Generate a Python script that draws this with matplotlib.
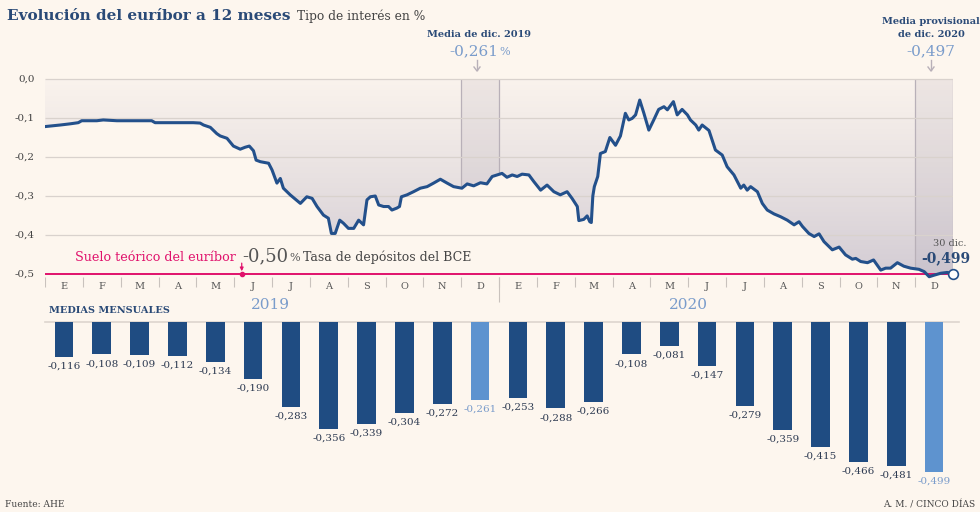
import numpy as np
import matplotlib
matplotlib.use('Agg')
import matplotlib.pyplot as plt
from matplotlib.patches import Polygon, Rectangle
from matplotlib.colors import LinearSegmentedColormap

plt.rcParams['font.family'] = ['DejaVu Serif']

# meses desde el 1 de enero de 2019 / euribor 12 meses (%)
mes = [0.00, 0.40, 0.66, 0.88, 0.97, 1.37, 1.54, 1.90, 2.34, 2.82, 2.91, 3.39, 3.92,
       4.10, 4.19, 4.37, 4.54, 4.63, 4.81, 4.98, 5.16, 5.29, 5.40, 5.51, 5.58, 5.69,
       5.91, 6.00, 6.13, 6.22, 6.30, 6.48, 6.75, 6.92, 7.06, 7.19, 7.36, 7.49, 7.57,
       7.67, 7.79, 7.89, 8.02, 8.16, 8.29, 8.42, 8.51, 8.60, 8.73, 8.82, 8.95, 9.08,
       9.17, 9.30, 9.37, 9.42, 9.57, 9.74, 9.92, 10.10, 10.27, 10.45, 10.63, 10.80,
       11.02, 11.16, 11.33, 11.51, 11.68, 11.82, 11.95, 12.08, 12.21, 12.35, 12.48,
       12.61, 12.79, 12.92, 13.10, 13.27, 13.45, 13.62, 13.80, 13.93, 14.07, 14.11,
       14.24, 14.33, 14.40, 14.44, 14.48, 14.52, 14.61, 14.68, 14.81, 14.93, 15.08,
       15.21, 15.34, 15.43, 15.52, 15.61, 15.72, 15.83, 15.96, 16.09, 16.22, 16.36,
       16.45, 16.61, 16.71, 16.84, 16.98, 17.06, 17.20, 17.28, 17.37, 17.55, 17.72,
       17.90, 18.03, 18.21, 18.39, 18.47, 18.56, 18.65, 18.83, 18.96, 19.09, 19.27,
       19.44, 19.62, 19.80, 19.93, 20.02, 20.19, 20.33, 20.46, 20.59, 20.81, 20.99,
       21.16, 21.34, 21.43, 21.56, 21.74, 21.90, 22.09, 22.22, 22.35, 22.53, 22.70,
       22.88, 23.10, 23.24, 23.37, 23.50, 23.68, 23.85, 24.00]
euribor = [-0.122, -0.118, -0.115, -0.112, -0.107, -0.107, -0.105, -0.107, -0.107, -0.107,
           -0.112, -0.112, -0.112, -0.113, -0.118, -0.124, -0.140, -0.146, -0.152, -0.172,
           -0.180, -0.175, -0.172, -0.184, -0.208, -0.212, -0.216, -0.233, -0.267, -0.255,
           -0.280, -0.297, -0.319, -0.302, -0.306, -0.327, -0.349, -0.357, -0.396, -0.396,
           -0.362, -0.370, -0.383, -0.383, -0.362, -0.374, -0.310, -0.302, -0.300, -0.323,
           -0.327, -0.327, -0.336, -0.331, -0.327, -0.302, -0.297, -0.289, -0.280, -0.276,
           -0.267, -0.257, -0.267, -0.276, -0.280, -0.269, -0.274, -0.266, -0.269, -0.250,
           -0.246, -0.242, -0.252, -0.246, -0.250, -0.244, -0.246, -0.263, -0.285, -0.272,
           -0.289, -0.297, -0.289, -0.306, -0.327, -0.363, -0.360, -0.351, -0.366, -0.368,
           -0.300, -0.276, -0.250, -0.191, -0.186, -0.150, -0.170, -0.146, -0.088, -0.105,
           -0.101, -0.092, -0.054, -0.088, -0.131, -0.105, -0.078, -0.071, -0.079, -0.058,
           -0.092, -0.078, -0.092, -0.105, -0.118, -0.131, -0.118, -0.132, -0.182, -0.195,
           -0.225, -0.246, -0.280, -0.272, -0.285, -0.276, -0.289, -0.319, -0.336, -0.346,
           -0.353, -0.362, -0.374, -0.366, -0.378, -0.396, -0.404, -0.397, -0.417, -0.438,
           -0.431, -0.451, -0.462, -0.460, -0.468, -0.471, -0.464, -0.490, -0.485, -0.485,
           -0.471, -0.480, -0.485, -0.488, -0.494, -0.507, -0.503, -0.498, -0.496, -0.499]

meses = ['E', 'F', 'M', 'A', 'M', 'J', 'J', 'A', 'S', 'O', 'N', 'D'] * 2
medias = [-0.116, -0.108, -0.109, -0.112, -0.134, -0.190, -0.283, -0.356, -0.339, -0.304,
          -0.272, -0.261, -0.253, -0.288, -0.266, -0.108, -0.081, -0.147, -0.279, -0.359,
          -0.415, -0.466, -0.481, -0.499]
resaltados = [11, 23]
niveles = [0.0, -0.1, -0.2, -0.3, -0.4, -0.5]
etiquetas_y = ['0,0', '-0,1', '-0,2', '-0,3', '-0,4', '-0,5']
suelo = -0.50

fondo = '#fdf6ee'
azul = '#23508b'
azul_claro = '#5e93cf'
texto_azul = '#7a9ccb'
marino = '#2a4a77'
magenta = '#e0126c'
gris = '#555555'

W, H = 980, 512
def fx(p):
    return p / W
def fy(p):
    return 1 - p / H

fig = plt.figure(figsize=(9.8, 5.12), dpi=100, facecolor=fondo)
renderer = fig.canvas.get_renderer()

def seguido(t, gap, texto, **kw):
    # coloca un texto justo a la derecha de otro
    bb = t.get_window_extent(renderer)
    return fig.text((bb.x1 + gap) / W, t.get_position()[1], texto, va='baseline', **kw)

# grafico de linea
top_v, bot_v = 0.02, -0.58
ax = fig.add_axes([fx(45), fy(79 - bot_v * 390), 908 / W, (top_v - bot_v) * 390 / H])
ax.set_xlim(0, 24)
ax.set_ylim(bot_v, top_v)
ax.axis('off')

poly = Polygon(list(zip(mes, euribor)) + [(24, 0), (0, 0)], closed=True,
               fc='none', ec='none')
ax.add_patch(poly)
cmap = LinearSegmentedColormap.from_list('g', ['#faf3ed', '#e8e1e1', '#d3ccd4'])
grad = np.linspace(0, 1, 256).reshape(-1, 1)
im = ax.imshow(grad, extent=(0, 24, -0.51, 0), aspect='auto', cmap=cmap,
               origin='upper', zorder=0.5)
im.set_clip_path(poly)

for r in resaltados:
    rect = Rectangle((r, -0.52), 1, 0.52, fc='#8c8299', alpha=0.11, ec='none', zorder=0.6)
    ax.add_patch(rect)
    rect.set_clip_path(poly)
    vl = ax.vlines([r, r + 1], -0.52, 0, color='#b8b0b8', lw=0.9, zorder=0.7)
    vl.set_clip_path(poly)

ax.hlines(niveles[:-1], 0, 24, color='#d9d2cd', lw=0.9, zorder=1)
ax.hlines(suelo, 0, 24, color=magenta, lw=1.4, zorder=2)
ax.plot(mes, euribor, color=azul, lw=2.2, zorder=4, solid_joinstyle='round')
ax.plot(mes[-1], euribor[-1], 'o', ms=7, mfc='white', mec=azul, mew=1.2, zorder=5, clip_on=False)

for v, lab in zip(niveles, etiquetas_y):
    ax.text(-0.28, v, lab, ha='right', va='center', fontsize=7.5, color='#444444')

ax.vlines(range(24), -0.5077, -0.5333, color='#c9c2bd', lw=0.8)
ax.vlines(12, -0.5077, -0.572, color='#c9c2bd', lw=0.8)
for i, m in enumerate(meses):
    ax.text(i + 0.5, -0.5308, m, ha='center', va='center', fontsize=7, color=gris)

ax.annotate('', xy=(5.2, suelo), xytext=(5.2, suelo + 0.035),
            arrowprops=dict(arrowstyle='-|>', color=magenta, lw=0.9, mutation_scale=5))
ax.plot(5.2, suelo, 'o', ms=3, color=magenta, zorder=3)

# barras de medias mensuales
ax2 = fig.add_axes([fx(45), fy(490), 908 / W, 168 / H])
ax2.set_xlim(0, 24)
ax2.set_ylim(-0.56, 0)
ax2.axis('off')
ax2.plot([0, 24.15], [0, 0], color='#ddd5ce', lw=1.2, clip_on=False, zorder=1)
colores = [azul_claro if i in resaltados else '#1f4c82' for i in range(24)]
ax2.bar(np.arange(24) + 0.5, medias, width=0.49, color=colores, zorder=2)
for i, v in enumerate(medias):
    c = texto_azul if i in resaltados else '#2e3b52'
    ax2.annotate(f'{v:.3f}'.replace('.', ','), (i + 0.5, v), xytext=(0, -3.5),
                 textcoords='offset points', ha='center', va='top', fontsize=7.5, color=c,
                 annotation_clip=False)

# textos
t = fig.text(fx(7), fy(20), 'Evolución del euríbor a 12 meses', fontsize=11,
             fontweight='bold', color=marino, va='baseline')
seguido(t, 6, 'Tipo de interés en %', fontsize=8.8, color='#444444')

fig.text(fx(479), fy(37), 'Media de dic. 2019', fontsize=7, fontweight='bold',
         color=marino, ha='center', va='baseline')
t = fig.text(fx(449), fy(55), '-0,261', fontsize=11, color=texto_azul, va='baseline')
seguido(t, 1, '%', fontsize=8, color=texto_azul)
fig.text(fx(931), fy(24), 'Media provisional', fontsize=7, fontweight='bold',
         color=marino, ha='center', va='baseline')
fig.text(fx(931), fy(37), 'de dic. 2020', fontsize=7, fontweight='bold',
         color=marino, ha='center', va='baseline')
fig.text(fx(931), fy(55), '-0,497', fontsize=11, color=texto_azul, ha='center', va='baseline')
for xa in [477, 931]:
    fig.add_artist(plt.Line2D([fx(xa), fx(xa)], [fy(60), fy(70)], color='#b8b0b8', lw=1))
    fig.add_artist(plt.Line2D([fx(xa - 3), fx(xa), fx(xa + 3)], [fy(67), fy(71), fy(67)],
                              color='#b8b0b8', lw=1))

fig.text(fx(950), fy(246), '30 dic.', fontsize=7, color='#555555', ha='center', va='baseline')
fig.text(fx(946), fy(262), '-0,499', fontsize=10, fontweight='bold', color=marino,
         ha='center', va='baseline')

t = fig.text(fx(75), fy(261), 'Suelo teórico del euríbor', fontsize=9.2, color=magenta,
             va='baseline')
t = seguido(t, 6, '-0,50', fontsize=13, color='#555555')
t = seguido(t, 1, '%', fontsize=8, color='#555555')
seguido(t, 3, 'Tasa de depósitos del BCE', fontsize=9, color='#444444')

fig.text(fx(270), fy(305), '2019', fontsize=11, color=texto_azul, ha='center', va='center')
fig.text(fx(688), fy(305), '2020', fontsize=11, color=texto_azul, ha='center', va='center')
fig.text(fx(49), fy(313), 'MEDIAS MENSUALES', fontsize=7, fontweight='bold', color=marino,
         va='baseline')

fig.text(fx(5), fy(507), 'Fuente: AHE', fontsize=6.5, color='#444444', va='baseline')
fig.text(fx(975), fy(507), 'A. M. / CINCO DÍAS', fontsize=6.5, color='#444444',
         ha='right', va='baseline')

fig.savefig('out.png', dpi=100, facecolor=fondo)
